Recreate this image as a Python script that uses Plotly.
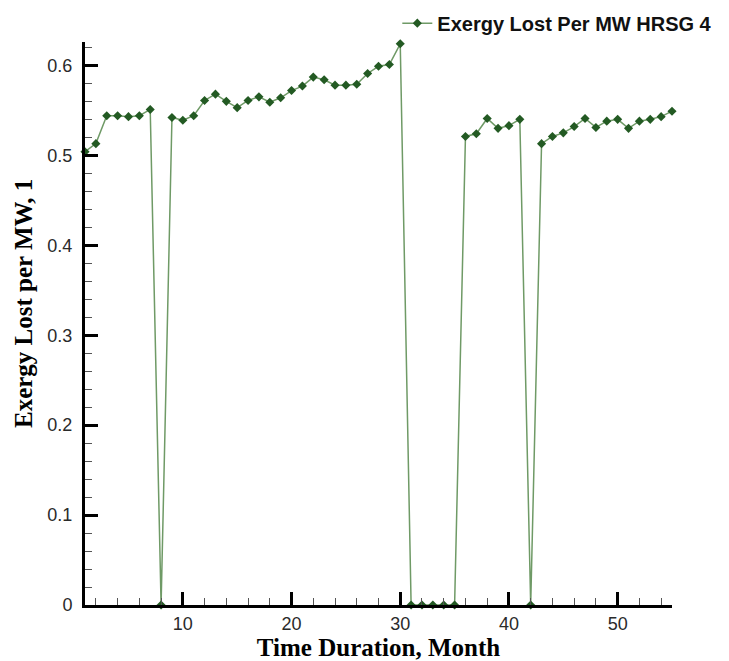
import plotly.graph_objects as go

months = list(range(1, 56))
exergy_lost = [
    0.504, 0.513, 0.544, 0.544, 0.543, 0.544, 0.551, 0.0, 0.542, 0.539,
    0.544, 0.561, 0.568, 0.560, 0.553, 0.561, 0.565, 0.559, 0.564, 0.572,
    0.577, 0.587, 0.584, 0.578, 0.578, 0.579, 0.591, 0.599, 0.601, 0.624,
    0.0, 0.0, 0.0, 0.0, 0.0, 0.521, 0.524, 0.541, 0.530, 0.533,
    0.540, 0.0, 0.513, 0.521, 0.525, 0.532, 0.541, 0.531, 0.538, 0.540,
    0.530, 0.538, 0.540, 0.543, 0.549,
]
series_name = "Exergy Lost Per MW HRSG 4"
x_title = "Time Duration, Month"
y_title = "Exergy Lost per MW, 1"
x_tick_vals = [10, 20, 30, 40, 50]
y_tick_vals = [0, 0.1, 0.2, 0.3, 0.4, 0.5, 0.6]
y_tick_text = ["0", "0.1", "0.2", "0.3", "0.4", "0.5", "0.6"]

fig = go.Figure()
fig.add_trace(go.Scatter(
    x=months, y=exergy_lost, mode="lines+markers", name=series_name,
    line=dict(color="#6f9a66", width=1.5),
    marker=dict(symbol="diamond", size=7, color="#235a23"),
    cliponaxis=False,
))

axis_common = dict(
    showgrid=False, zeroline=False, showline=True, linecolor="black", linewidth=3,
    ticks="inside", ticklen=13, tickwidth=3, tickcolor="black",
    tickfont=dict(family="Liberation Sans, Arial", size=18, color="#2a2a2a"),
    mirror=False, automargin=False,
)
title_font = dict(family="Liberation Serif, Times New Roman", size=25, color="black", weight="bold")

fig.update_xaxes(
    range=[1, 55], tickvals=x_tick_vals, ticklabelstandoff=0,
    minor=dict(ticks="inside", ticklen=7, tickwidth=1, tickcolor="#555555", dtick=2, tick0=0, showgrid=False),
    title=dict(text=x_title, font=title_font, standoff=4),
    **axis_common,
)
fig.update_yaxes(
    range=[0, 0.626], tickvals=y_tick_vals, ticktext=y_tick_text, ticklabelstandoff=6,
    minor=dict(ticks="inside", ticklen=7, tickwidth=1, tickcolor="#555555", dtick=0.02, tick0=0, showgrid=False),
    **axis_common,
)

fig.add_annotation(
    text=y_title, textangle=-90, showarrow=False,
    xref="paper", yref="paper", x=-0.1035, y=0.535,
    xanchor="center", yanchor="middle", font=title_font,
)

fig.update_layout(
    width=729, height=661,
    margin=dict(l=85, r=57, t=42, b=56, autoexpand=False),
    paper_bgcolor="white", plot_bgcolor="white",
    showlegend=True,
    legend=dict(
        orientation="h", xref="container", yref="container",
        x=0.545, xanchor="left", y=0.965, yanchor="middle",
        font=dict(family="Liberation Sans, Arial", size=20, color="#111111", weight="bold"),
        bgcolor="rgba(0,0,0,0)",
    ),
)

fig.write_html("out.html", config={"displayModeBar": False},
               post_script="document.body.style.margin='0';")
